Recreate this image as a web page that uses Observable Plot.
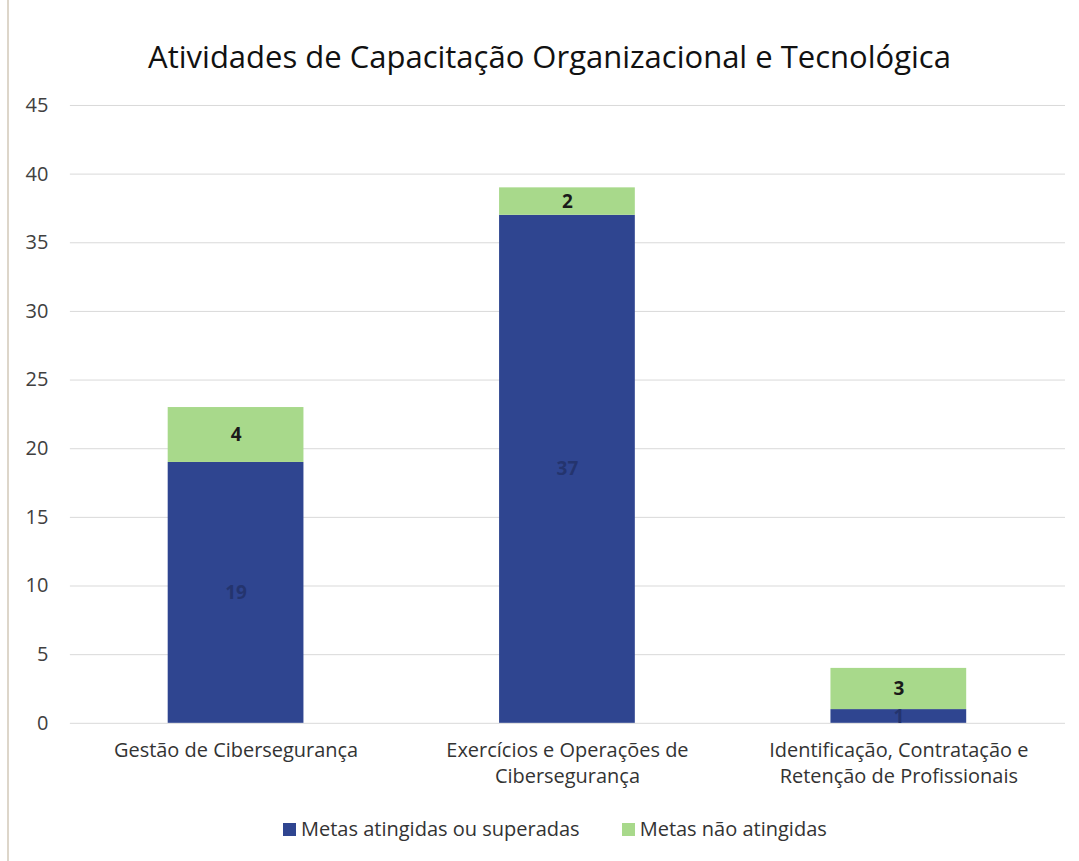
<!DOCTYPE html>
<html><head><meta charset="utf-8">
<script src="https://cdn.jsdelivr.net/npm/d3@7"></script>
<script src="https://cdn.jsdelivr.net/npm/@observablehq/plot@0.6"></script>
<style>
body{margin:0;background:#fff;font-family:"Open Sans",sans-serif;}
#wrap{position:relative;height:861px;box-sizing:border-box;border-left:2px solid #ddd6ca;margin-left:7px;width:1070px;}
#title{position:absolute;width:1079px;text-align:center;font-size:31px;color:#111;top:35px;left:1px;}
#chart{position:absolute;left:-9px;top:90px;}
#legend{position:absolute;left:274px;top:815px;white-space:nowrap;font-size:20px;color:#333;}
.sw{display:inline-block;width:13px;height:13px;margin-right:5px;vertical-align:0px;}
.li{display:inline-block;margin-right:42px;}
</style></head>
<body>
<div id="wrap">
<div id="title">Atividades de Capacitação Organizacional e Tecnológica</div>
<div id="chart"></div>
<div id="legend"></div>
</div>
<script>
const categories = ["Gestão de Cibersegurança", "Exercícios e Operações de Cibersegurança", "Identificação, Contratação e Retenção de Profissionais"];
const categoryLabels = ["Gestão de Cibersegurança", "Exercícios e Operações de\nCibersegurança", "Identificação, Contratação e\nRetenção de Profissionais"];
const seriesNames = ["Metas atingidas ou superadas", "Metas não atingidas"];
const atingidas = [19, 37, 1];
const naoAtingidas = [4, 2, 3];
const yTicks = [0, 5, 10, 15, 20, 25, 30, 35, 40, 45];
const colors = ["#2f4590", "#a8d98b"];
const labelColors = ["#24346e", "#1a1a1a"];

const rows = [];
categories.forEach((c, i) => rows.push({cat: c, series: seriesNames[0], value: atingidas[i]}));
categories.forEach((c, i) => rows.push({cat: c, series: seriesNames[1], value: naoAtingidas[i]}));
const labelOf = Object.fromEntries(categories.map((c, i) => [c, categoryLabels[i]]));

const chart = Plot.plot({
  width: 1079,
  height: 720,
  marginTop: 15,
  marginBottom: 86,
  marginLeft: 70,
  marginRight: 12,
  style: {fontFamily: "'Open Sans', sans-serif", fontSize: "20px", color: "#404040", background: "transparent"},
  x: {domain: categories, paddingInner: 0.59, paddingOuter: 0.295, label: null},
  y: {domain: [0, 45], ticks: yTicks, label: null},
  color: {domain: seriesNames, range: colors},
  marks: [
    Plot.gridY(yTicks, {stroke: "#d9d9d9", strokeOpacity: 1}),
    Plot.axisY(yTicks, {tickSize: 0, tickPadding: 22, label: null, fill: "#404040", fontSize: 20}),
    Plot.axisX({tickSize: 0, tickPadding: 15, label: null, tickFormat: d => labelOf[d], lineHeight: 1.32, fill: "#333", fontSize: 20}),
    Plot.barY(rows, Plot.stackY({x: "cat", y: "value", fill: "series", order: seriesNames})),
    Plot.text(rows, Plot.stackY({x: "cat", y: "value", z: "series", order: seriesNames, text: d => String(d.value),
      fill: d => labelColors[seriesNames.indexOf(d.series)], fontSize: 19, fontWeight: "bold"}))
  ]
});
document.getElementById("chart").appendChild(chart);

const legend = document.getElementById("legend");
seriesNames.forEach((s, i) => {
  const item = document.createElement("span");
  item.className = "li";
  const sw = document.createElement("span");
  sw.className = "sw";
  sw.style.background = colors[i];
  item.appendChild(sw);
  item.appendChild(document.createTextNode(s));
  legend.appendChild(item);
});
</script>
</body></html>
